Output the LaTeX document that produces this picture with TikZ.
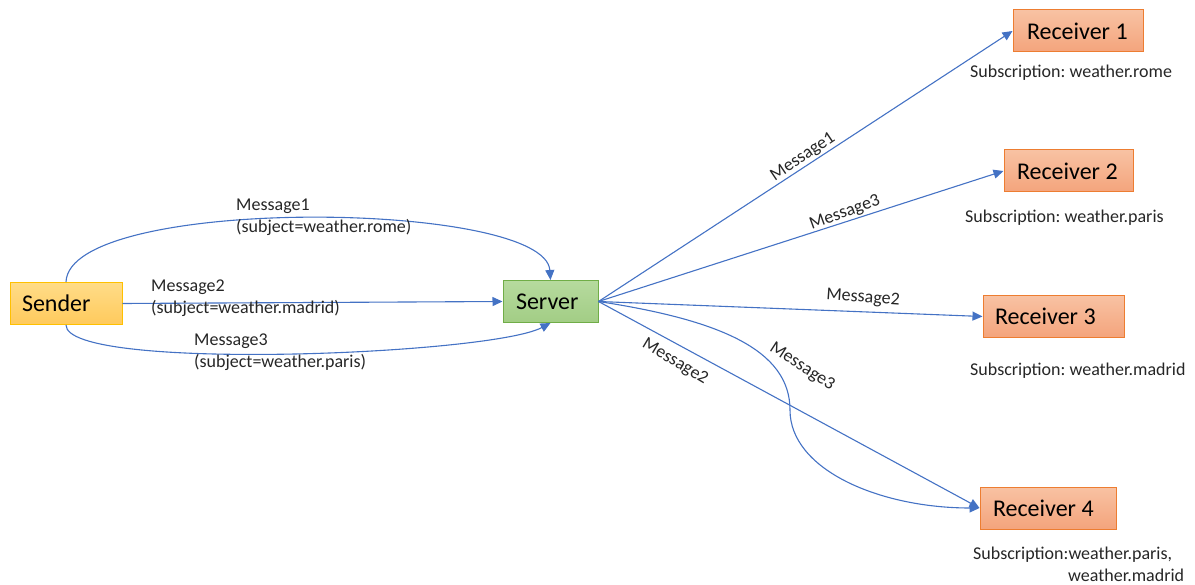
\documentclass[tikz,border=0pt]{standalone}
\usepackage{fontspec}
\setmainfont{Carlito}
\usetikzlibrary{arrows.meta}
\frenchspacing
\definecolor{link}{HTML}{4472C4}
\definecolor{sendTop}{HTML}{FFDC88}
\definecolor{sendBot}{HTML}{FFCA5C}
\definecolor{sendLine}{HTML}{FFC000}
\definecolor{srvTop}{HTML}{B6DA9E}
\definecolor{srvBot}{HTML}{A2CD85}
\definecolor{srvLine}{HTML}{70AD47}
\definecolor{recTop}{HTML}{F8C2A3}
\definecolor{recBot}{HTML}{F4A47C}
\definecolor{recLine}{HTML}{ED7D31}
\definecolor{ink}{HTML}{262626}
% box caption of fixed width, set flush left
\newcommand{\boxtext}[2]{\makebox[#1][l]{#2}}
\begin{document}
\begin{tikzpicture}[x=1pt,y=-1pt,
  box/.style={rectangle, draw, line width=1pt, minimum height=42pt,
    inner ysep=0pt, text=black, font=\fontsize{24}{28}\selectfont},
  sendbox/.style={box, draw=sendLine, top color=sendTop, bottom color=sendBot},
  srvbox/.style={box, draw=srvLine, top color=srvTop, bottom color=srvBot},
  recbox/.style={box, draw=recLine, top color=recTop, bottom color=recBot},
  lbl/.style={inner sep=0pt, text=ink, font=\fontsize{18}{22}\selectfont},
  msg/.style={draw=link, line width=1.1pt,
    -{Triangle[length=10pt,width=9pt]}}]
\useasboundingbox (0,0) rectangle (1195,585);

% boxes
\node[sendbox, inner xsep=12pt] (snd) at (66,303.5)     {\boxtext{88pt}{Sender}};
\node[srvbox,  inner xsep=13pt] (srv) at (550.5,301.5)  {\boxtext{69pt}{Server}};
\node[recbox,  inner xsep=14pt] (r1)  at (1078,31)      {\boxtext{102pt}{Receiver 1}};
\node[recbox,  inner xsep=13pt] (r2)  at (1068.5,171)   {\boxtext{103pt}{Receiver 2}};
\node[recbox,  inner xsep=12pt] (r3)  at (1053.5,316.5) {\boxtext{117pt}{Receiver 3}};
\node[recbox,  inner xsep=13pt] (r4)  at (1048,508)     {\boxtext{110pt}{Receiver 4}};

% subscriptions
\node[lbl, anchor=west] (s1) at (970,73)  {Subscription: weather.rome};
\node[lbl, anchor=west] (s2) at (965,218) {Subscription: weather.paris};
\node[lbl, anchor=west] (s3) at (970,371) {Subscription: weather.madrid};
\node[lbl, anchor=west, align=left] (s4) at (973,564)
  {Subscription:weather.paris,\\\hspace*{95pt}weather.madrid};

% sender to server
\draw[msg] (snd.north) .. controls (69,195) and (545,200) .. (srv.north);
\draw[msg] (snd.east) -- (srv.west);
\draw[msg] (snd.south) .. controls (66,372) and (490,355) .. (srv.south);

\node[lbl, anchor=west, align=left] (m1) at (236,217.5) {Message1\\(subject=weather.rome)};
\node[lbl, anchor=west, align=left] (m2) at (151,298.5) {Message2\\(subject=weather.madrid)};
\node[lbl, anchor=west, align=left] (m3) at (194,352.5) {Message3\\(subject=weather.paris)};

% server to receivers
\draw[msg] (srv.east) -- (r1.west);
\draw[msg] (srv.east) -- (r2.west);
\draw[msg] (srv.east) -- (r3.west);
\draw[msg] (srv.east) -- (r4.west);
\draw[msg] (srv.east) .. controls (720,320) and (790,350) .. (790,410)
  .. controls (790,470) and (880,508) .. (r4.west);

\node[lbl, rotate=34]  (d1) at (803,157) {Message1};
\node[lbl, rotate=20]  (d2) at (845,213) {Message3};
\node[lbl, rotate=-4]  (d3) at (863,298) {Message2};
\node[lbl, rotate=-31] (d4) at (675,362) {Message2};
\node[lbl, rotate=-33] (d5) at (802,367) {Message3};
\end{tikzpicture}
\end{document}
